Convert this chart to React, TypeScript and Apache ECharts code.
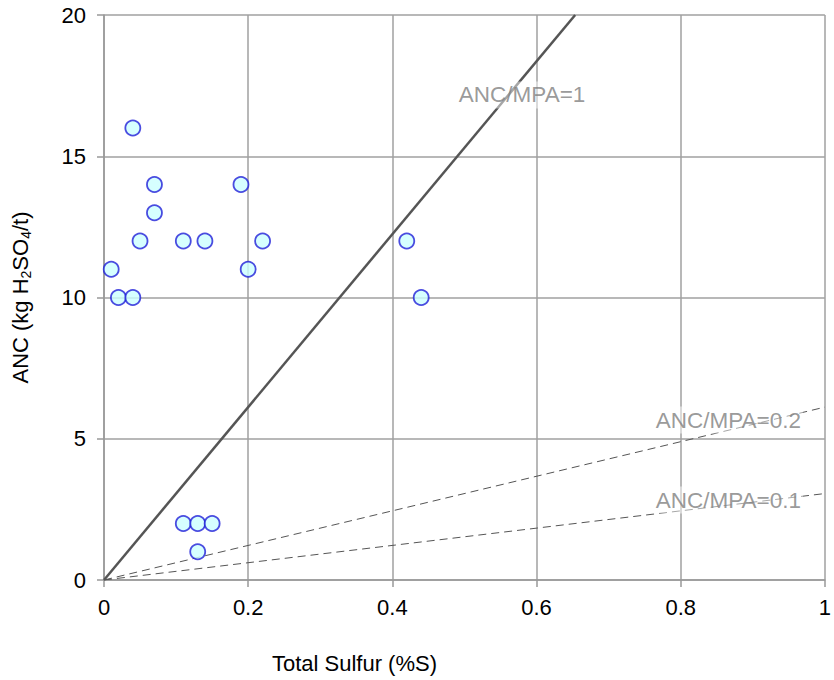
import React, { useEffect, useRef } from "react";
import * as echarts from "echarts";

const samplesS = [0.01, 0.02, 0.04, 0.04, 0.05, 0.07, 0.07, 0.11, 0.14, 0.19, 0.2, 0.22, 0.42, 0.44, 0.11, 0.13, 0.15, 0.13];
const samplesANC = [11, 10, 10, 16, 12, 14, 13, 12, 12, 14, 11, 12, 12, 10, 2, 2, 2, 1];

const ratio1Line = [[0, 0], [0.6536, 20]];
const ratio02Line = [[0, 0], [1, 6.12]];
const ratio01Line = [[0, 0], [1, 3.06]];

const lineLabels = ["ANC/MPA=1", "ANC/MPA=0.2", "ANC/MPA=0.1"];
const lineLabelPos = [[0.58, 17.17], [0.866, 5.66], [0.866, 2.83]];

const xTicks = [0, 0.2, 0.4, 0.6, 0.8, 1];
const yTicks = [0, 5, 10, 15, 20];

const FONT = "Liberation Sans, Arial, Helvetica, sans-serif";

export default function App() {
  const ref = useRef<HTMLDivElement>(null);
  useEffect(() => {
    const chart = echarts.init(ref.current!, undefined, { renderer: "svg" });
    chart.setOption({
      animation: false,
      backgroundColor: "#fff",
      textStyle: { fontFamily: FONT },
      grid: { left: 104, right: 5, top: 15, bottom: 100, containLabel: false },
      xAxis: {
        type: "value",
        min: 0,
        max: 1,
        interval: 0.2,
        name: "Total Sulfur (%S)",
        nameLocation: "middle",
        nameGap: 72,
        nameTextStyle: { fontSize: 22, color: "#000", fontFamily: FONT, padding: [0, 220, 0, 0] },
        axisLine: { show: true, onZero: false, lineStyle: { color: "#999", width: 1.5 } },
        axisTick: { show: true, length: 7, lineStyle: { color: "#999", width: 1.5 } },
        axisLabel: {
          fontSize: 22,
          color: "#000",
          margin: 16,
          fontFamily: FONT,
          formatter: (v: number) => (xTicks.includes(Math.round(v * 10) / 10) ? String(Math.round(v * 10) / 10) : ""),
        },
        splitLine: { show: true, lineStyle: { color: "#a0a0a0", width: 1.5 } },
      },
      yAxis: {
        type: "value",
        min: 0,
        max: 20,
        interval: 5,
        name: "ANC (kg H{sub|2}SO{sub|4}/t)",
        nameLocation: "middle",
        nameGap: 71,
        nameTextStyle: {
          fontSize: 22,
          color: "#000",
          fontFamily: FONT,
          rich: { sub: { fontSize: 14, fontFamily: FONT, color: "#000", padding: [12, 0, 0, 0] } },
        },
        axisLine: { show: true, onZero: false, lineStyle: { color: "#999", width: 1.5 } },
        axisTick: { show: true, length: 7, lineStyle: { color: "#999", width: 1.5 } },
        axisLabel: {
          fontSize: 22,
          color: "#000",
          margin: 18,
          fontFamily: FONT,
          formatter: (v: number) => (yTicks.includes(v) ? String(v) : ""),
        },
        splitLine: { show: true, lineStyle: { color: "#a0a0a0", width: 1.5 } },
      },
      series: [
        {
          type: "line",
          name: "ANC/MPA=1",
          data: ratio1Line,
          symbol: "none",
          lineStyle: { color: "#555", width: 2.5 },
          z: 3,
        },
        {
          type: "line",
          name: "ANC/MPA=0.2",
          data: ratio02Line,
          symbol: "none",
          lineStyle: { color: "#555", width: 1, type: [8, 5] },
          z: 3,
        },
        {
          type: "line",
          name: "ANC/MPA=0.1",
          data: ratio01Line,
          symbol: "none",
          lineStyle: { color: "#555", width: 1, type: [8, 5] },
          z: 3,
        },
        {
          type: "scatter",
          name: "labels",
          data: lineLabelPos.map((p, i) => ({ value: p, name: lineLabels[i] })),
          symbolSize: 0,
          silent: true,
          z: 4,
          label: {
            show: true,
            position: "inside",
            formatter: (p: any) => p.name,
            fontSize: 22.5,
            fontFamily: FONT,
            color: "#808080",
            backgroundColor: "rgba(255,255,255,0.6)",
            padding: [2, 2],
          },
        },
        {
          type: "scatter",
          name: "samples",
          data: samplesS.map((s, i) => [s, samplesANC[i]]),
          symbol: "circle",
          symbolSize: 15,
          itemStyle: { color: "#ccffff", borderColor: "#1f1fd8", borderWidth: 1.8 },
          z: 5,
        },
      ],
    });
    return () => chart.dispose();
  }, []);
  return <div ref={ref} style={{ position: "fixed", left: 0, top: 0, width: 834, height: 680 }} />;
}
